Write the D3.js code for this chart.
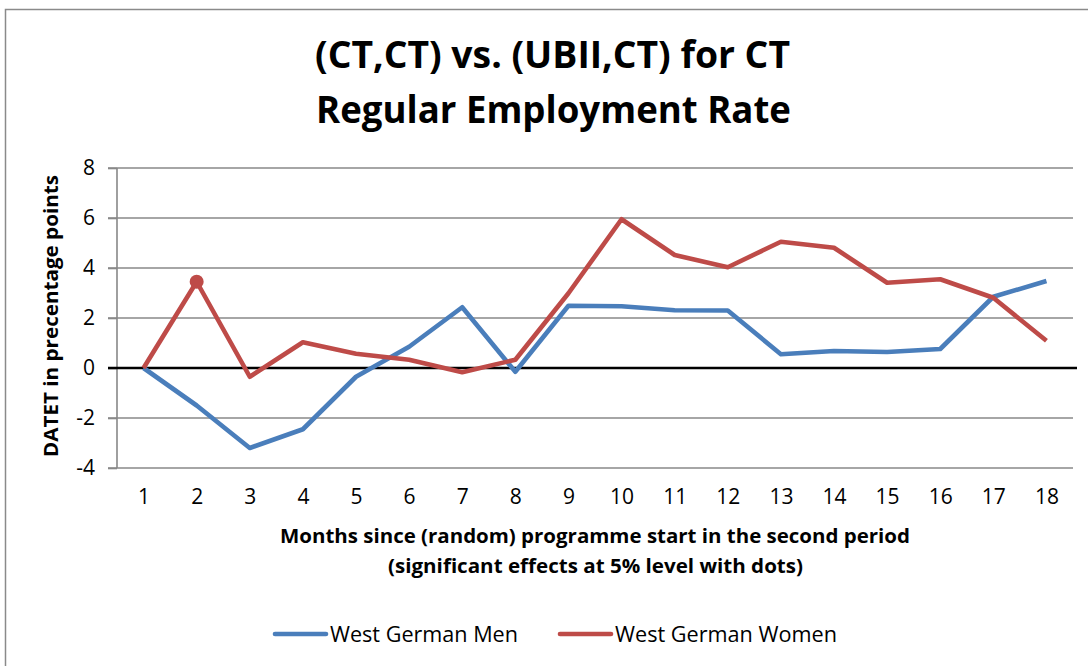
<!DOCTYPE html>
<html>
<head>
<meta charset="utf-8">
<script src="https://cdn.jsdelivr.net/npm/d3@7"></script>
<style>
  html, body { margin: 0; padding: 0; background: #fff; }
  svg { display: block; font-family: 'Open Sans', 'DejaVu Sans', sans-serif; }
</style>
</head>
<body>
<div id="chart"></div>
<script>
// Chart data
const months = ['1', '2', '3', '4', '5', '6', '7', '8', '9', '10', '11', '12', '13', '14', '15', '16', '17', '18'];
const menValues = [0, -1.5, -3.2, -2.45, -0.35, 0.85, 2.43, -0.15, 2.49, 2.47, 2.31, 2.3, 0.55, 0.68, 0.64, 0.76, 2.85, 3.48];
const womenValues = [0, 3.45, -0.35, 1.03, 0.57, 0.33, -0.17, 0.33, 2.99, 5.95, 4.52, 4.03, 5.05, 4.81, 3.41, 3.55, 2.81, 1.09];
const womenSignificant = ['2'];
const yTicks = [-4, -2, 0, 2, 4, 6, 8];
const seriesNames = ['West German Men', 'West German Women'];

const width = 1088;
const height = 666;
const colors = { men: '#4a7ebb', women: '#be4b48' };

const svg = d3.select('#chart')
    .append('svg')
    .attr('width', width)
    .attr('height', height);

// Outer chart frame (runs off the right and bottom of the picture)
svg.append('rect')
    .attr('x', 5.5)
    .attr('y', 9.5)
    .attr('width', width + 20)
    .attr('height', height + 20)
    .attr('fill', 'none')
    .attr('stroke', '#8a8a8a')
    .attr('stroke-width', 1.5);

// Scales
const x = d3.scalePoint()
    .domain(months)
    .range([117, 1073])
    .padding(0.5);

const y = d3.scaleLinear()
    .domain([-4, 8])
    .range([468, 168]);

// Title, two lines
const title = svg.append('g')
    .attr('font-weight', 'bold')
    .attr('font-size', 37)
    .attr('fill', '#000');
title.append('text')
    .attr('x', 315).attr('y', 68)
    .attr('textLength', 475)
    .attr('lengthAdjust', 'spacingAndGlyphs')
    .text('(CT,CT) vs. (UBII,CT) for CT');
title.append('text')
    .attr('x', 316).attr('y', 123)
    .attr('textLength', 475)
    .attr('lengthAdjust', 'spacingAndGlyphs')
    .text('Regular Employment Rate');

// Gridlines
svg.append('g')
    .selectAll('line')
    .data(yTicks.filter(d => d !== 0))
    .enter()
    .append('line')
    .attr('x1', 108)
    .attr('x2', 1073)
    .attr('y1', d => y(d))
    .attr('y2', d => y(d))
    .attr('stroke', '#888')
    .attr('stroke-width', 1.6);

// Y axis: ticks and labels (plain hyphen for negatives, as in the original)
const yAxis = svg.append('g')
    .attr('transform', 'translate(117,0)')
    .call(d3.axisLeft(y).tickValues(yTicks).tickSize(9).tickPadding(13).tickFormat(d => String(d)));
yAxis.select('.domain')
    .attr('d', `M0,${y(8)}V${y(-4)}`)
    .attr('stroke', '#888')
    .attr('stroke-width', 1.6);
yAxis.selectAll('.tick line').attr('stroke', '#888').attr('stroke-width', 1.6);
yAxis.selectAll('.tick text')
    .attr('font-size', 21)
    .attr('font-family', "'Open Sans', sans-serif")
    .attr('fill', '#000');

// Zero line
svg.append('line')
    .attr('x1', 108)
    .attr('x2', 1077)
    .attr('y1', y(0))
    .attr('y2', y(0))
    .attr('stroke', '#000')
    .attr('stroke-width', 2.4);

// X axis labels
const xAxis = svg.append('g')
    .attr('transform', `translate(0,${y(-4)})`)
    .call(d3.axisBottom(x).tickSize(0).tickPadding(21));
xAxis.select('.domain').remove();
xAxis.selectAll('.tick text')
    .attr('font-size', 21)
    .attr('font-family', "'Open Sans', sans-serif")
    .attr('fill', '#000');

// Lines
const line = d3.line()
    .x((d, i) => x(months[i]))
    .y(d => y(d));

svg.append('path')
    .datum(menValues)
    .attr('d', line)
    .attr('fill', 'none')
    .attr('stroke', colors.men)
    .attr('stroke-width', 4.6)
    .attr('stroke-linejoin', 'round');

svg.append('path')
    .datum(womenValues)
    .attr('d', line)
    .attr('fill', 'none')
    .attr('stroke', colors.women)
    .attr('stroke-width', 4.6)
    .attr('stroke-linejoin', 'round');

// Significance dots
svg.append('g')
    .selectAll('circle')
    .data(womenSignificant)
    .enter()
    .append('circle')
    .attr('cx', d => x(d))
    .attr('cy', d => y(womenValues[months.indexOf(d)]))
    .attr('r', 7)
    .attr('fill', colors.women);

// Axis titles
svg.append('text')
    .attr('transform', 'translate(58,457) rotate(-90)')
    .attr('font-weight', 'bold')
    .attr('font-size', 19)
    .attr('textLength', 282)
    .attr('lengthAdjust', 'spacingAndGlyphs')
    .text('DATET in precentage points');

const xTitle = svg.append('g')
    .attr('font-weight', 'bold')
    .attr('font-size', 19);
xTitle.append('text')
    .attr('x', 280).attr('y', 543)
    .attr('textLength', 630)
    .attr('lengthAdjust', 'spacingAndGlyphs')
    .text('Months since (random) programme start in the second period');
xTitle.append('text')
    .attr('x', 388).attr('y', 573)
    .attr('textLength', 415)
    .attr('lengthAdjust', 'spacingAndGlyphs')
    .text('(significant effects at 5% level with dots)');

// Legend
const legendItems = [
    { name: seriesNames[0], color: colors.men, x: 275, textWidth: 188 },
    { name: seriesNames[1], color: colors.women, x: 560, textWidth: 222 }
];
const legend = svg.append('g')
    .selectAll('g')
    .data(legendItems)
    .enter()
    .append('g')
    .attr('transform', d => `translate(${d.x},634)`);
legend.append('line')
    .attr('x1', 0).attr('x2', 51)
    .attr('stroke', d => d.color)
    .attr('stroke-width', 4.6)
    .attr('stroke-linecap', 'round');
legend.append('text')
    .attr('x', 55)
    .attr('y', 8)
    .attr('font-size', 21)
    .attr('textLength', d => d.textWidth)
    .attr('lengthAdjust', 'spacingAndGlyphs')
    .text(d => d.name);
</script>
</body>
</html>
